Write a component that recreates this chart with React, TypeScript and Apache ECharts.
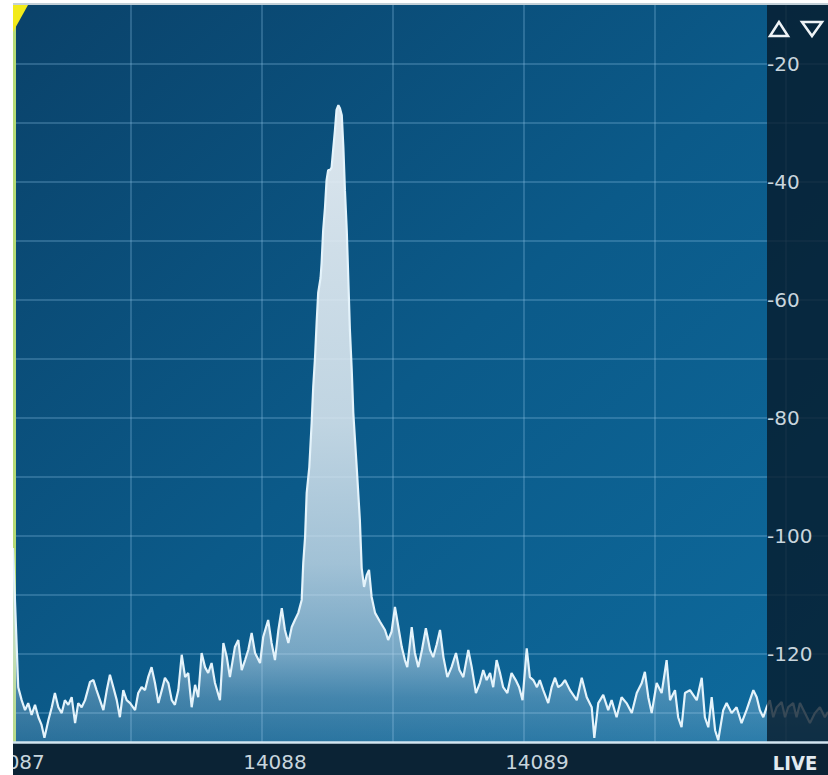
import React, { useEffect, useRef } from 'react';
import * as echarts from 'echarts';

// Spectrum trace: frequency (kHz) and level (dB)
const freqKHz = [
  14087.000, 14087.020, 14087.033, 14087.046, 14087.058, 14087.071, 14087.084, 14087.097, 14087.109, 14087.120,
  14087.135, 14087.148, 14087.160, 14087.173, 14087.186, 14087.198, 14087.211, 14087.224, 14087.237, 14087.249,
  14087.262, 14087.275, 14087.294, 14087.307, 14087.319, 14087.332, 14087.345, 14087.358, 14087.370, 14087.383,
  14087.396, 14087.408, 14087.421, 14087.434, 14087.447, 14087.466, 14087.478, 14087.491, 14087.504, 14087.516,
  14087.529, 14087.542, 14087.555, 14087.568, 14087.580, 14087.593, 14087.606, 14087.618, 14087.631, 14087.644,
  14087.657, 14087.669, 14087.682, 14087.695, 14087.707, 14087.720, 14087.733, 14087.745, 14087.758, 14087.771,
  14087.790, 14087.803, 14087.816, 14087.828, 14087.847, 14087.860, 14087.873, 14087.886, 14087.898, 14087.911,
  14087.924, 14087.943, 14087.955, 14087.974, 14087.987, 14088.000, 14088.013, 14088.026, 14088.038, 14088.051,
  14088.064, 14088.076, 14088.089, 14088.102, 14088.108, 14088.115, 14088.121, 14088.131, 14088.140, 14088.146,
  14088.153, 14088.159, 14088.165, 14088.174, 14088.178, 14088.184, 14088.191, 14088.197, 14088.203, 14088.210,
  14088.216, 14088.222, 14088.229, 14088.235, 14088.242, 14088.248, 14088.255, 14088.261, 14088.267, 14088.274,
  14088.280, 14088.286, 14088.293, 14088.299, 14088.312, 14088.324, 14088.331, 14088.340, 14088.350, 14088.359,
  14088.369, 14088.382, 14088.401, 14088.420, 14088.432, 14088.445, 14088.458, 14088.471, 14088.484, 14088.496,
  14088.505, 14088.522, 14088.534, 14088.547, 14088.561, 14088.576, 14088.592, 14088.604, 14088.617, 14088.630,
  14088.643, 14088.658, 14088.674, 14088.691, 14088.704, 14088.719, 14088.738, 14088.751, 14088.767, 14088.782,
  14088.795, 14088.808, 14088.821, 14088.833, 14088.846, 14088.859, 14088.871, 14088.887, 14088.903, 14088.919,
  14088.932, 14088.945, 14088.961, 14088.973, 14088.986, 14089.000, 14089.011, 14089.024, 14089.043, 14089.056,
  14089.069, 14089.081, 14089.094, 14089.107, 14089.126, 14089.152, 14089.171, 14089.190, 14089.209, 14089.219,
  14089.234, 14089.253, 14089.272, 14089.285, 14089.304, 14089.323, 14089.342, 14089.362, 14089.381, 14089.400,
  14089.412, 14089.425, 14089.438, 14089.457, 14089.476, 14089.495, 14089.508, 14089.527, 14089.539, 14089.552,
  14089.565, 14089.584, 14089.610, 14089.629, 14089.641, 14089.654, 14089.667, 14089.680, 14089.692, 14089.711,
  14089.724, 14089.743, 14089.762, 14089.781, 14089.800, 14089.826, 14089.839, 14089.851, 14089.864, 14089.877,
  14089.889, 14089.902, 14089.915, 14089.934, 14089.947, 14089.959, 14089.978, 14089.991, 14090.004, 14090.023,
  14090.042, 14090.061, 14090.080, 14090.099, 14090.111,
];

const levelDb = [
  -102.1, -125.7, -127.9, -129.6, -128.4, -130.4, -128.7, -130.8, -132.1, -134.3,
  -131.3, -129.1, -126.7, -129.1, -130.1, -127.9, -128.7, -127.4, -131.8, -128.4,
  -129.1, -127.9, -124.8, -124.5, -126.2, -127.9, -129.6, -126.2, -123.6, -125.7,
  -127.9, -130.8, -126.2, -127.9, -128.4, -129.6, -126.7, -125.7, -126.2, -124.0,
  -122.3, -125.0, -128.4, -126.2, -124.1, -125.0, -127.9, -128.7, -126.2, -120.2,
  -124.0, -123.3, -129.1, -125.3, -127.4, -119.9, -122.3, -123.3, -121.6, -125.0,
  -127.9, -118.2, -120.6, -124.0, -118.9, -117.7, -122.8, -121.1, -119.4, -116.5,
  -119.9, -121.6, -117.2, -114.3, -118.2, -121.1, -116.0, -112.3, -116.0, -118.2,
  -115.5, -114.3, -113.1, -110.9, -104.6, -100.2, -92.8, -88.4, -80.9, -74.8,
  -69.7, -63.9, -58.8, -56.3, -53.8, -48.2, -44.3, -39.7, -38.0, -38.0,
  -37.6, -34.6, -31.2, -27.8, -27.0, -27.5, -28.7, -34.1, -41.4, -48.2,
  -56.6, -65.1, -71.9, -79.2, -88.4, -97.3, -105.5, -108.7, -106.7, -105.8,
  -110.4, -113.1, -114.6, -116.0, -117.7, -116.3, -112.1, -115.5, -118.9, -121.1,
  -122.3, -115.5, -119.9, -122.3, -119.4, -115.7, -119.4, -120.6, -118.5, -116.0,
  -120.6, -124.0, -122.3, -119.9, -122.8, -124.0, -119.4, -122.3, -126.7, -125.0,
  -122.8, -124.5, -123.3, -125.7, -121.1, -123.3, -125.7, -126.7, -123.3, -124.5,
  -125.7, -127.9, -119.1, -124.0, -124.5, -125.7, -124.5, -126.2, -128.4, -125.7,
  -124.1, -125.7, -125.3, -124.5, -126.2, -127.9, -124.1, -127.4, -129.1, -134.3,
  -128.4, -127.0, -129.6, -127.9, -130.8, -127.4, -128.4, -130.1, -126.7, -125.0,
  -123.1, -127.4, -130.1, -125.0, -126.7, -121.1, -127.9, -126.2, -130.8, -132.5,
  -126.7, -126.2, -127.9, -124.1, -130.8, -132.5, -127.4, -133.0, -134.7, -129.6,
  -128.4, -130.1, -129.1, -131.8, -129.6, -126.2, -127.4, -129.6, -130.8, -129.1,
  -127.9, -130.8, -129.1, -128.2, -130.8, -129.1, -128.4, -130.8, -128.4, -130.1,
  -131.8, -130.1, -129.1, -130.8, -129.9,
];

const xLabelValues = [14087, 14088, 14089];
const xGridValues = [14087.45, 14087.95, 14088.45, 14088.95, 14089.45, 14089.95];
const yLabelValues = [-120, -100, -80, -60, -40, -20];
const yGridValues = [-130, -120, -110, -100, -90, -80, -70, -60, -50, -40, -30, -20];

const X_MIN = 14087;
const X_MAX = 14090.111;
const Y_MIN = -135;
const Y_MAX = -10;

export default function App() {
  const ref = useRef<HTMLDivElement>(null);

  useEffect(() => {
    if (!ref.current) return;
    const chart = echarts.init(ref.current, undefined, { renderer: 'svg' });
    const data = freqKHz.map((f, i) => [f, levelDb[i]]);
    const gridColor = 'rgba(135,190,228,0.28)';
    const labelFont = 'DejaVu Sans, Verdana, sans-serif';

    const option: any = {
      animation: false,
      grid: { left: 13, right: 0, top: 5, bottom: 33, containLabel: false, outerBoundsMode: 'none' },
      xAxis: [
        {
          type: 'value', min: X_MIN, max: X_MAX, position: 'top', z: 0,
          axisLine: { show: false, onZero: false },
          axisTick: { show: false, customValues: xGridValues },
          axisLabel: { show: false },
          splitLine: { show: true, lineStyle: { color: gridColor, width: 2 } },
        },
        {
          type: 'value', min: X_MIN, max: X_MAX, position: 'bottom', z: 60,
          axisLine: { show: true, onZero: false, lineStyle: { color: '#d2e5f0', width: 2.5 } },
          axisTick: { show: false },
          axisLabel: {
            customValues: xLabelValues, color: '#c8d5dd', fontSize: 20, fontFamily: labelFont,
            margin: 10, formatter: (v: number) => String(Math.round(v)),
          },
          splitLine: { show: false },
        },
      ],
      yAxis: [
        {
          type: 'value', min: Y_MIN, max: Y_MAX, position: 'left', z: 0,
          axisLine: { show: false, onZero: false },
          axisTick: { show: false, customValues: yGridValues },
          axisLabel: { show: false },
          splitLine: { show: true, lineStyle: { color: gridColor, width: 2 } },
        },
        {
          type: 'value', min: Y_MIN, max: Y_MAX, position: 'right', z: 200,
          axisLine: { show: false, onZero: false },
          axisTick: { show: false },
          axisLabel: {
            customValues: yLabelValues, inside: true, margin: 61, align: 'left',
            verticalAlign: 'middle', color: '#c8d5dd', fontSize: 20, fontFamily: labelFont,
          },
          splitLine: { show: false },
        },
      ],
      series: [
        {
          type: 'line', xAxisIndex: 0, yAxisIndex: 0, data, symbol: 'none', z: 2,
          lineStyle: { color: '#e4f3fb', width: 2.2 },
          areaStyle: {
            origin: 'start',
            opacity: 1,
            color: new echarts.graphic.LinearGradient(0, 0, 0, 1, [
              { offset: 0, color: 'rgba(236,242,247,0.93)' },
              { offset: 0.5, color: 'rgba(226,236,243,0.84)' },
              { offset: 0.72, color: 'rgba(214,229,240,0.74)' },
              { offset: 0.86, color: 'rgba(205,225,240,0.55)' },
              { offset: 0.93, color: 'rgba(200,222,240,0.3)' },
              { offset: 1, color: 'rgba(200,222,240,0.16)' },
            ]),
          },
        },
      ],
      graphic: [
        {
          type: 'rect', z: -10, silent: true,
          shape: { x: 13, y: 5, width: 815, height: 737 },
          style: {
            fill: new echarts.graphic.LinearGradient(0, 0, 1, 1, [
              { offset: 0, color: '#0a426a' },
              { offset: 0.5, color: '#0b5a89' },
              { offset: 1, color: '#0e6b9e' },
            ]),
          },
        },
        { type: 'rect', z: -10, silent: true, shape: { x: 13, y: 742, width: 815, height: 33 }, style: { fill: '#0b2335' } },
        { type: 'line', z: 1, silent: true, shape: { x1: 14.5, y1: 5, x2: 14.5, y2: 742 }, style: { stroke: '#b5d975', lineWidth: 3 } },
        { type: 'rect', z: 50, silent: true, shape: { x: 767, y: 5, width: 61, height: 737 }, style: { fill: 'rgba(6,24,40,0.78)' } },
        { type: 'rect', z: 100, silent: true, shape: { x: 767, y: 744, width: 61, height: 31 }, style: { fill: '#0b2335' } },
        {
          type: 'text', z: 101, silent: true,
          style: {
            text: 'LIVE', x: 795, y: 763, fill: '#e2eaf0',
            font: 'bold 20px "DejaVu Sans Condensed", "DejaVu Sans", sans-serif',
            textAlign: 'center', textVerticalAlign: 'middle', align: 'center', verticalAlign: 'middle',
          },
        },
        { type: 'rect', z: 100, silent: true, shape: { x: 0, y: 0, width: 13, height: 775 }, style: { fill: '#ffffff' } },
        { type: 'polygon', z: 100, silent: true, shape: { points: [[13, 5], [28, 5], [13, 32]] }, style: { fill: '#f2ea1a' } },
        { type: 'line', z: 100, silent: true, shape: { x1: 13, y1: 4, x2: 828, y2: 4 }, style: { stroke: '#c3d0d8', lineWidth: 2 } },
        {
          type: 'polygon', z: 210, silent: true,
          shape: { points: [[779, 22], [770, 36], [788, 36]] },
          style: { fill: 'none', stroke: '#eef3f6', lineWidth: 2.5 },
        },
        {
          type: 'polygon', z: 210, silent: true,
          shape: { points: [[802, 22], [822, 22], [812, 36]] },
          style: { fill: 'none', stroke: '#eef3f6', lineWidth: 2.5 },
        },
      ],
    };

    chart.setOption(option);
    return () => chart.dispose();
  }, []);

  return (
    <div
      ref={ref}
      style={{ position: 'absolute', left: 0, top: 0, width: 828, height: 775 }}
    />
  );
}
